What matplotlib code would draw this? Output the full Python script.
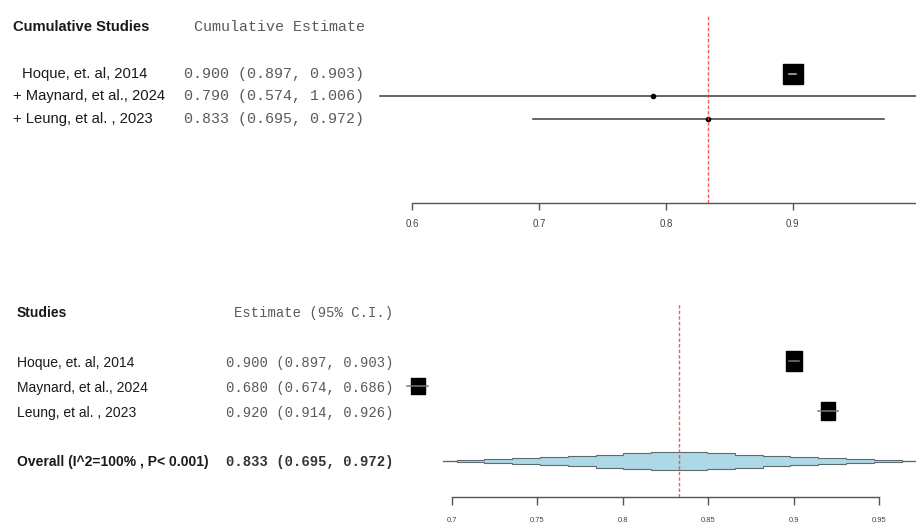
import numpy as np
import matplotlib.pyplot as plt
import matplotlib.transforms as mtransforms
from matplotlib.path import Path
from matplotlib.patches import Polygon

# top panel: cumulative meta-analysis
cumStudies = ['Hoque, et. al, 2014', '+ Maynard, et al., 2024', '+ Leung, et al. , 2023']
cumEst = [0.900, 0.790, 0.833]
cumLow = [0.897, 0.574, 0.695]
cumHigh = [0.903, 1.006, 0.972]
cumTicks = [0.6, 0.7, 0.8, 0.9]
cumTickLabels = ['0.6', '0.7', '0.8', '0.9']

# bottom panel: individual studies + overall
studies = ['Hoque, et. al, 2014', 'Maynard, et al., 2024', 'Leung, et al. , 2023']
est = [0.900, 0.680, 0.920]
low = [0.897, 0.674, 0.914]
high = [0.903, 0.686, 0.926]
overallLabel = 'Overall (I^2=100% , P< 0.001)'
overallEst = 0.833
overallLow = 0.695
overallHigh = 0.972
ticks = [0.7, 0.75, 0.8, 0.85, 0.9, 0.95]
tickLabels = ['0.7', '0.75', '0.8', '0.85', '0.9', '0.95']

W, H = 916, 524
sans = ['Liberation Sans', 'DejaVu Sans']
mono = ['Liberation Mono', 'DejaVu Sans Mono']
txtCol = '#1a1a1a'
monoCol = '#5a5a5a'
axCol = '#555555'

fig = plt.figure(figsize=(W/100, H/100), dpi=100)


def pxAxes(left, top, right, bottom):
    return fig.add_axes([left/W, 1-bottom/H, (right-left)/W, (bottom-top)/H])


def fmt(e, l, h):
    return f"{e:.3f} ({l:.3f}, {h:.3f})"


def styleAxis(ax, lo, hi, tks, labs, tickLen, pad, fs):
    for s in ['top', 'left', 'right']:
        ax.spines[s].set_visible(False)
    ax.spines['bottom'].set_bounds(lo, hi)
    ax.spines['bottom'].set_color(axCol)
    ax.spines['bottom'].set_linewidth(1.0)
    ax.set_yticks([])
    ax.set_xticks(tks, labs)
    ax.tick_params(axis='x', color=axCol, length=tickLen, width=1.0,
                   pad=pad, labelsize=fs, labelcolor='#444444')
    for t in ax.get_xticklabels():
        t.set_family(sans)
    ax.patch.set_visible(False)


# rect marker (a bit taller than wide, like the stretched reference)
rectMarker = Path([(-0.8, -1), (0.8, -1), (0.8, 1), (-0.8, 1), (-0.8, -1)],
                  [Path.MOVETO, Path.LINETO, Path.LINETO, Path.LINETO, Path.CLOSEPOLY])

# ---------------- top panel ----------------
ax1 = pxAxes(0, 10, W, 203)
ax1.set_xlim(0.6 - 412.5/1267, 0.6 + (W-412.5)/1267)
ax1.set_ylim(5.733, -2.844)
styleAxis(ax1, 0.6, 1.0, cumTicks, cumTickLabels, 5, 6.5, 7)

rows1 = np.arange(len(cumStudies))
cumMarkers = ['s', 'o', 'o']
cumSizes = [14.4, 3, 3]
for r, e, l, h, m, s in zip(rows1, cumEst, cumLow, cumHigh, cumMarkers, cumSizes):
    ax1.plot([l, h], [r, r], color='#3a3a3a' if m == 'o' else '#bbbbbb',
             lw=1.1, zorder=3 if m == 's' else 2, clip_on=False)
    ax1.plot(e, r, marker=m, ms=s, color='black', zorder=2.5, clip_on=False)

ax1.axvline(overallEst, ymin=0, ymax=0.974, color='#ff3b3b', lw=1.0,
            dashes=(2.5, 1.5), alpha=0.85, zorder=4)

tr1 = mtransforms.blended_transform_factory(fig.transFigure, ax1.transData)
ax1.text(13/W, -2.09, 'Cumulative Studies', transform=tr1, family=sans,
         fontsize=10.6, fontweight='bold', color=txtCol, va='center')
ax1.text(365/W, -2.09, 'Cumulative Estimate', transform=tr1, family=mono,
         fontsize=10.8, color=monoCol, va='center', ha='right')
labX1 = [22, 13, 13]
for r, name, x, e, l, h in zip(rows1, cumStudies, labX1, cumEst, cumLow, cumHigh):
    ax1.text(x/W, r, name, transform=tr1, family=sans, fontsize=10.6,
             color=txtCol, va='center')
    ax1.text(364/W, r, fmt(e, l, h), transform=tr1, family=mono,
             fontsize=10.8, color=monoCol, va='center', ha='right')

# ---------------- bottom panel ----------------
ax2 = pxAxes(0, 295, W, 497)
ax2.set_xlim(0.7 - 451.7/1710, 0.7 + (W-451.7)/1710)
ax2.set_ylim(5.44, -2.64)
styleAxis(ax2, 0.7, 0.95, ticks, tickLabels, 5.8, 8.5, 5.5)

rows2 = np.arange(len(studies))
sqSizes = [15.1, 12.2, 12.7]
for r, e, l, h, s in zip(rows2, est, low, high, sqSizes):
    ax2.plot(e, r, marker=rectMarker, ms=s, color='black', zorder=2.5, clip_on=False)
    ax2.plot([l, h], [r, r], color='#777777', lw=1.1, zorder=3, clip_on=False)

# overall: stepped "diamond"
overallRow = len(studies) + 1
nSteps = 8
halfCI = (overallHigh - overallLow) / 2
hw = np.arange(1, nSteps + 1) / nSteps * 0.94 * halfCI
hh = (8.6 - 1.05*np.arange(nSteps)) / 25.0
edges = np.concatenate([-hw[::-1], hw]) + overallEst
levels = np.concatenate([hh[::-1], hh[1:]])
upper = []
for i in range(len(levels)):
    upper += [(edges[i], overallRow - levels[i]), (edges[i+1], overallRow - levels[i])]
lower = [(x, 2*overallRow - y) for x, y in upper[::-1]]
ax2.plot([overallLow, overallHigh], [overallRow, overallRow], color='#666666',
         lw=1.0, zorder=2, clip_on=False)
ax2.add_patch(Polygon(upper + lower, closed=True, facecolor='#add8e6',
                      edgecolor='#5d6b70', lw=0.8, zorder=2.2))

ax2.axvline(overallEst, ymin=0, ymax=0.96, color='#ff3b3b', lw=1.0,
            dashes=(2.5, 1.5), alpha=0.85, zorder=4)

tr2 = mtransforms.blended_transform_factory(fig.transFigure, ax2.transData)
ax2.text(17/W, -1.92, 'Studies', transform=tr2, family=sans, fontsize=10,
         fontweight='bold', color=txtCol, va='center')
ax2.text(393/W, -1.92, 'Estimate (95% C.I.)', transform=tr2, family=mono,
         fontsize=10, color=monoCol, va='center', ha='right')
for r, name, e, l, h in zip(rows2, studies, est, low, high):
    ax2.text(17/W, r + 0.08, name, transform=tr2, family=sans, fontsize=10,
             color=txtCol, va='center')
    ax2.text(393/W, r + 0.08, fmt(e, l, h), transform=tr2, family=mono,
             fontsize=10, color=monoCol, va='center', ha='right')
ax2.text(17/W, overallRow + 0.04, overallLabel, transform=tr2, family=sans,
         fontsize=10, fontweight='bold', color=txtCol, va='center')
ax2.text(393/W, overallRow + 0.04, fmt(overallEst, overallLow, overallHigh),
         transform=tr2, family=mono, fontsize=10, color='#333333',
         fontweight='bold', va='center', ha='right')

fig.savefig('out.png', dpi=100)
